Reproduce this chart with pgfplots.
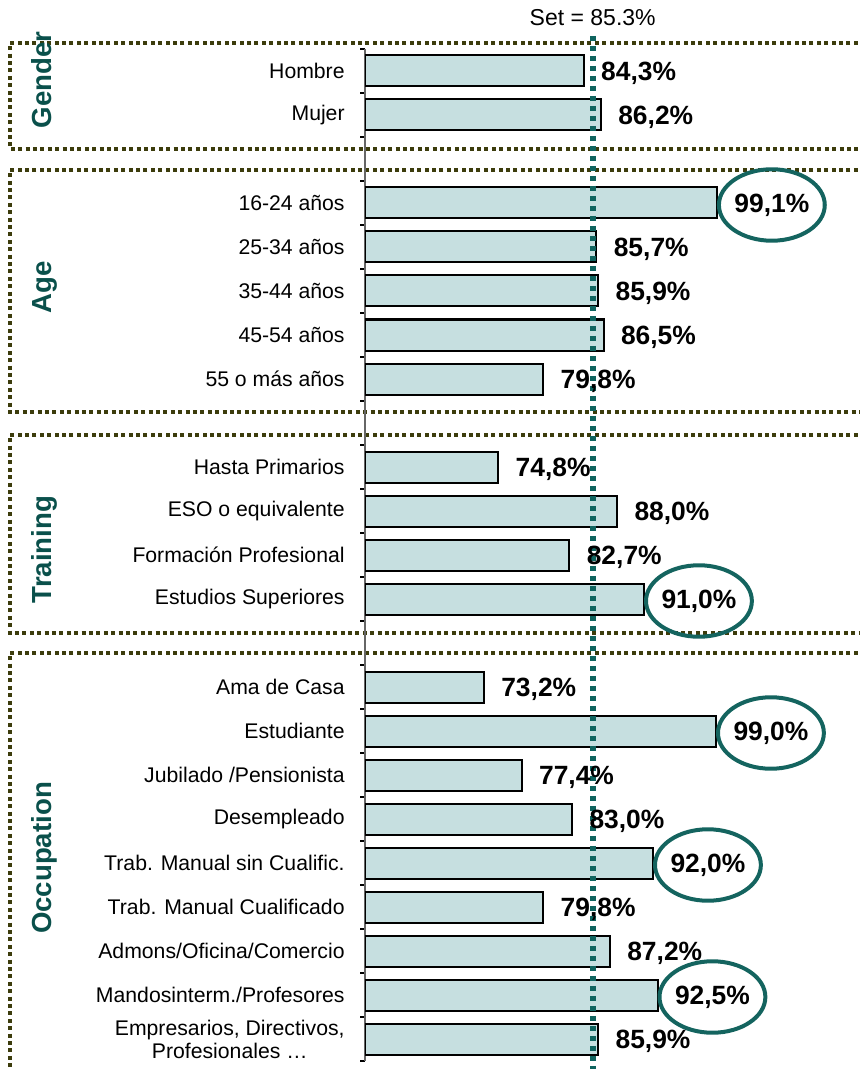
\documentclass[border=0pt]{standalone}
\usepackage{pgfplots}
\pgfplotsset{compat=1.18}
\usepackage{pgfplotstable}
\usepackage{fontspec}
\setmainfont{Liberation Sans}
\usetikzlibrary{shapes.geometric}

\definecolor{barfill}{RGB}{198,223,224}
\definecolor{setcol}{RGB}{15,100,95}
\definecolor{ringcol}{RGB}{20,100,95}
\definecolor{groupcol}{RGB}{10,80,75}
\definecolor{boxcol}{RGB}{60,60,12}

% pos = slot from top (blank slots between groups), circ = value is ringed
\pgfplotstableread{
pos val circ
0 84.3 0
1 86.2 0
3 99.1 1
4 85.7 0
5 85.9 0
6 86.5 0
7 79.8 0
9 74.8 0
10 88.0 0
11 82.7 0
12 91.0 1
14 73.2 0
15 99.0 1
16 77.4 0
17 83.0 0
18 92.0 1
19 79.8 0
20 87.2 0
21 92.5 1
22 85.9 0
}\survey

\begin{document}
\begin{tikzpicture}
\path[use as bounding box] (0,0) rectangle (430pt,534.5pt);

% dotted group frames
\begin{scope}[draw=boxcol, line width=2pt, dash pattern=on 2pt off 1.7pt]
  \draw (440pt,513pt) -- (5pt,513pt) -- (5pt,460pt) -- (440pt,460pt);
  \draw (440pt,449.5pt) -- (5pt,449.5pt) -- (5pt,328.5pt) -- (440pt,328.5pt);
  \draw (440pt,317pt) -- (5pt,317pt) -- (5pt,218pt) -- (440pt,218pt);
  \draw (440pt,208pt) -- (5pt,208pt) -- (5pt,-10pt);
\end{scope}

\begin{scope}[every node/.style={rotate=90, anchor=base, text=groupcol,
    font=\fontsize{13.8}{14}\selectfont\bfseries}]
  \node at (25.5pt,494.5pt) {Gender};
  \node at (25.5pt,391pt) {Age};
  \node at (25.5pt,259.75pt) {Training};
  \node at (25.5pt,105.5pt) {Occupation};
\end{scope}

\begin{axis}[
  at={(182.5pt,4pt)}, anchor=south west,
  scale only axis, width=247.5pt, height=506pt,
  xmin=60, xmax=115, ymin=-0.5, ymax=22.5, y dir=reverse,
  axis x line=none, axis y line*=left, xtick=\empty,
  y axis line style={draw=gray!80!black, line width=0.75pt},
  ytick={0,1,3,4,5,6,7,9,10,11,12,14,15,16,17,18,19,20,21,22},
  yticklabels={Hombre, Mujer, 16-24 años, 25-34 años, 35-44 años, 45-54 años,
    55 o más años, Hasta Primarios, ESO o equivalente, Formación Profesional,
    Estudios Superiores, Ama de Casa, Estudiante, Jubilado /Pensionista,
    Desempleado, Trab. Manual sin Cualific., Trab. Manual Cualificado,
    Admons/Oficina/Comercio, Mandosinterm./Profesores,
    {Empresarios, Directivos,\\Profesionales …}},
  yticklabel style={font=\fontsize{10.6}{11.5}\selectfont, align=center,
    inner sep=0pt, xshift=-10pt},
  major tick length=0pt,
  minor ytick={-0.5,0.5,...,22.5},
  minor tick length=2.5pt, tick align=outside,
  minor tick style={black, line width=0.6pt},
  clip mode=individual,
  /pgf/number format/assume math mode=true,
]
  \addplot[xbar, bar shift=0pt, bar width=15.5pt, fill=barfill, draw=black,
    line width=1pt] table[x=val, y=pos] {\survey};

  \draw[setcol, line width=2.8pt, dash pattern=on 2.5pt off 2.5pt]
    (axis cs:85.3,-0.8) -- (axis cs:85.3,22.7);
  \node[anchor=base, font=\fontsize{11.5}{12}\selectfont]
    at (axis cs:85.3,-1.023) {Set = 85.3\%};

  \addplot[xbar, bar shift=0pt, bar width=15.5pt, draw=none, fill=none,
    point meta=x,
    visualization depends on={\thisrow{circ} \as \circled},
    nodes near coords={\pgfmathprintnumber[fixed,fixed zerofill,precision=1,use comma]{\pgfplotspointmeta}\%},
    every node near coord/.append style={anchor=west, ellipse, text=black,
      font=\fontsize{13.2}{13}\selectfont\bfseries,
      draw=ringcol, draw opacity=\circled, line width=2pt,
      inner xsep=0pt, inner ysep=7pt, yshift=-1pt},
  ] table[x=val, y=pos] {\survey};
\end{axis}
\end{tikzpicture}
\end{document}
